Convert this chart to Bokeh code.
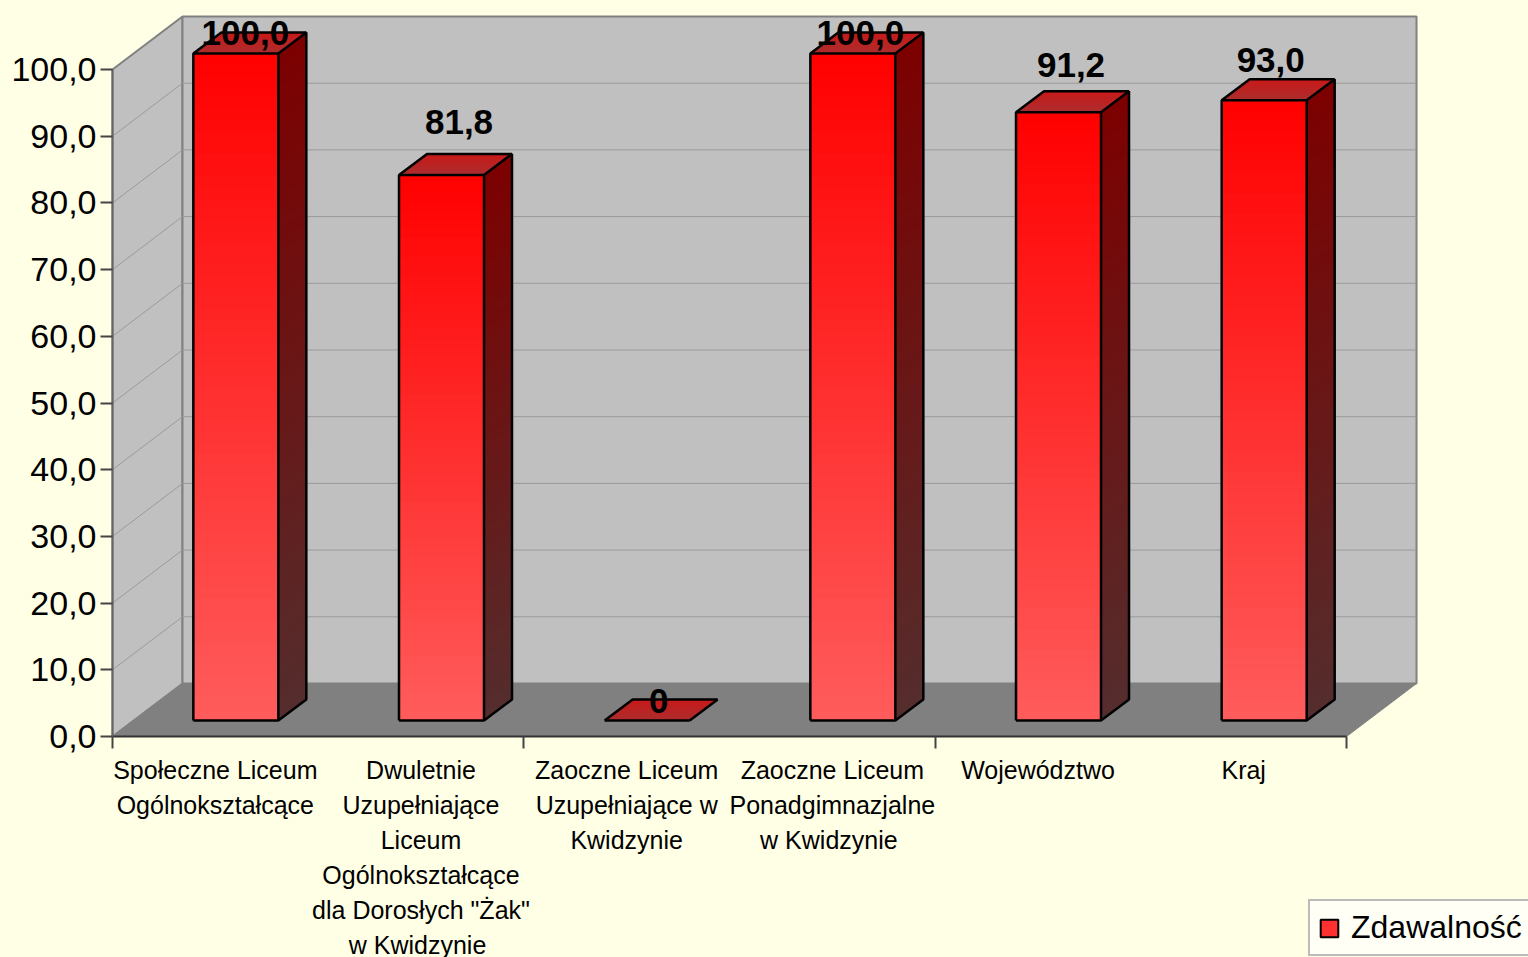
from bokeh.plotting import figure
from bokeh.models import Range1d, FixedTicker, ColumnDataSource, Legend, LegendItem
from bokeh.core.properties import value
from bokeh.embed import file_html
from bokeh.resources import INLINE

# ---- data ----
categories = [
    "Społeczne Liceum\nOgólnokształcące",
    "Dwuletnie\nUzupełniające\nLiceum\nOgólnokształcące\ndla Dorosłych \"Żak\"\nw  Kwidzynie",
    "Zaoczne Liceum\nUzupełniające w\nKwidzynie",
    "Zaoczne Liceum\nPonadgimnazjalne\nw  Kwidzynie",
    "Województwo",
    "Kraj",
]
values = [100.0, 81.8, 0.0, 100.0, 91.2, 93.0]
value_labels = ["100,0", "81,8", "0", "100,0", "91,2", "93,0"]
y_ticks = [0, 10, 20, 30, 40, 50, 60, 70, 80, 90, 100]
y_tick_labels = ["0,0", "10,0", "20,0", "30,0", "40,0", "50,0", "60,0", "70,0", "80,0", "90,0", "100,0"]
series_name = "Zdawalność"

# ---- layout constants (pixels) ----
W, H = 1528, 957
LEFT, ZERO = 112, 736
PX_CAT, PX_VAL = 205.67, 6.67
WALL_DX, WALL_DY = 70, 53
BAR_W, BAR_DX, BAR_DY = 85, 28, 21
BAR_FRONT_DX, BAR_FRONT_DY = 20.5, 16
LABEL_NUDGE_X = [9, 17, 11, 7, 12, 6]
LABEL_NUDGE_Y = [21, 53, 20, 21, 47, 40]
FONT = "Liberation Sans"
BG = "#FFFFE6"
N = 60

cx = lambda px: px / PX_CAT
vy = lambda px: px / PX_VAL
def mix(a, b, t):
    return "#%02x%02x%02x" % tuple(round(a[i] + (b[i] - a[i]) * t) for i in range(3))

p = figure(width=W, height=H, output_backend="svg", toolbar_location=None,
           x_range=Range1d(-LEFT / PX_CAT, (W - LEFT) / PX_CAT),
           y_range=Range1d(-(H - ZERO) / PX_VAL, ZERO / PX_VAL),
           min_border=0,
           background_fill_color=BG, border_fill_color=BG, outline_line_color=None)
p.grid.visible = False

WX, WY = cx(WALL_DX), vy(WALL_DY)
ncat = len(categories)
top = y_ticks[-1]

# walls and floor
p.patch([0, WX, WX, 0], [0, WY, top + WY, top], fill_color="#C0C0C0", line_color="#808080", line_width=2)
p.patch([WX, ncat + WX, ncat + WX, WX], [WY, WY, top + WY, top + WY], fill_color="#C0C0C0", line_color="#808080", line_width=2)
p.patch([0, WX, ncat + WX, ncat], [0, WY, WY, 0], fill_color="#808080", line_color="#808080", line_width=1)
grid = y_ticks[1:-1]
p.multi_line([[0, WX, ncat + WX] for _ in grid], [[t, t + WY, t + WY] for t in grid],
             line_color="#9A9A9A", line_width=1)

# bars: each gradient step repaints from the base, so no seams show through
FRONT_T, FRONT_B = (255, 0, 0), (255, 92, 92)
SIDE_T, SIDE_B = (125, 0, 0), (85, 45, 45)
TOP_B, TOP_F = (200, 25, 25), (172, 45, 45)
bw, fdx, fdy, ddx, ddy = cx(BAR_W), cx(BAR_FRONT_DX), vy(BAR_FRONT_DY), cx(BAR_DX), vy(BAR_DY)
for i, v in enumerate(values):
    x0 = i + 0.5 - bw / 2 + fdx
    x1 = x0 + bw
    h0 = fdy
    if v > 0:
        for k in range(N - 1, -1, -1):
            b = v * (k + 1) / N
            t = 1 - (k + 0.5) / N
            p.quad(left=[x0], right=[x1], bottom=[h0], top=[h0 + b],
                   fill_color=mix(FRONT_T, FRONT_B, t), line_color=None)
            p.patch([x1, x1 + ddx, x1 + ddx, x1], [h0, h0 + ddy, h0 + b + ddy, h0 + b],
                    fill_color=mix(SIDE_T, SIDE_B, t), line_color=None)
    for k in range(9, -1, -1):
        b = (k + 1) / 10
        c = mix(TOP_F, TOP_B, (k + 0.5) / 10)
        p.patch([x0, x1, x1 + ddx * b, x0 + ddx * b],
                [h0 + v, h0 + v, h0 + v + ddy * b, h0 + v + ddy * b],
                fill_color=c, line_color=None)
    # outlines
    p.multi_line(
        [[x0, x1, x1, x0, x0], [x1, x1 + ddx, x1 + ddx, x1], [x0, x0 + ddx, x1 + ddx]],
        [[h0, h0, h0 + v, h0 + v, h0], [h0, h0 + ddy, h0 + v + ddy, h0 + v], [h0 + v, h0 + v + ddy, h0 + v + ddy]],
        line_color="#000000", line_width=2.5)

# value labels
src = ColumnDataSource(dict(
    x=[i + 0.5 + cx(LABEL_NUDGE_X[i]) + cx(21) for i in range(ncat)],
    y=[fdy + v for v in values],
    t=value_labels,
    dy=[-n for n in LABEL_NUDGE_Y]))
p.text("x", "y", text="t", source=src, y_offset="dy", text_align="center", text_baseline="middle",
       text_font=value(FONT), text_font_style="bold", text_font_size="35px", text_color="#000000")

# axes, pinned to the zero lines of the data
ya = p.yaxis[0]
ya.fixed_location = 0
ya.ticker = FixedTicker(ticks=y_ticks)
ya.major_label_overrides = {t: l for t, l in zip(y_ticks, y_tick_labels)}
ya.bounds = (y_ticks[0], y_ticks[-1])
ya.axis_line_color = "#666666"
ya.axis_line_width = 2
ya.major_tick_line_color = "#444444"
ya.major_tick_line_width = 2
ya.major_tick_in = 0
ya.major_tick_out = 12
ya.minor_tick_in = ya.minor_tick_out = 0
ya.major_label_standoff = 4
ya.major_label_text_font = FONT
ya.major_label_text_font_size = "34px"
ya.major_label_text_color = "#000000"

xa = p.xaxis[0]
xa.fixed_location = 0
xa.ticker = FixedTicker(ticks=[i + 0.5 for i in range(ncat)], minor_ticks=[0, 2, 4, 6])
xa.major_label_overrides = {i + 0.5: c for i, c in enumerate(categories)}
xa.bounds = (0, ncat)
xa.axis_line_color = "#333333"
xa.axis_line_width = 2
xa.major_tick_in = xa.major_tick_out = 0
xa.minor_tick_in = 0
xa.minor_tick_out = 12
xa.minor_tick_line_color = "#444444"
xa.minor_tick_line_width = 2
xa.major_label_standoff = 7
xa.major_label_text_font = FONT
xa.major_label_text_font_size = "25px"
xa.major_label_text_color = "#000000"
xa.major_label_text_line_height = 1.25
xa.major_label_orientation = "horizontal"

# legend: its key comes from a renderer whose one quad lies outside the visible ranges
swatch = p.quad(left=[-50], right=[-49], bottom=[-50], top=[-49],
                fill_color="#FF3030", line_color="#000000", line_width=2)
legend = Legend(items=[LegendItem(label=series_name, renderers=[swatch])],
                location=(1308, 1), orientation="vertical",
                background_fill_color="#FFFFF6", background_fill_alpha=1,
                border_line_color="#777777", border_line_width=2,
                label_text_font=FONT, label_text_font_size="32px", label_text_color="#000000",
                glyph_width=22, glyph_height=22, padding=8, margin=0, spacing=0,
                label_standoff=11)
p.add_layout(legend, "center")

html = file_html(p, INLINE)
html = html.replace("</head>", "<style>html,body{margin:0!important;padding:0;background:%s;overflow:hidden}</style></head>" % BG, 1)
open("out.html", "w").write(html)
